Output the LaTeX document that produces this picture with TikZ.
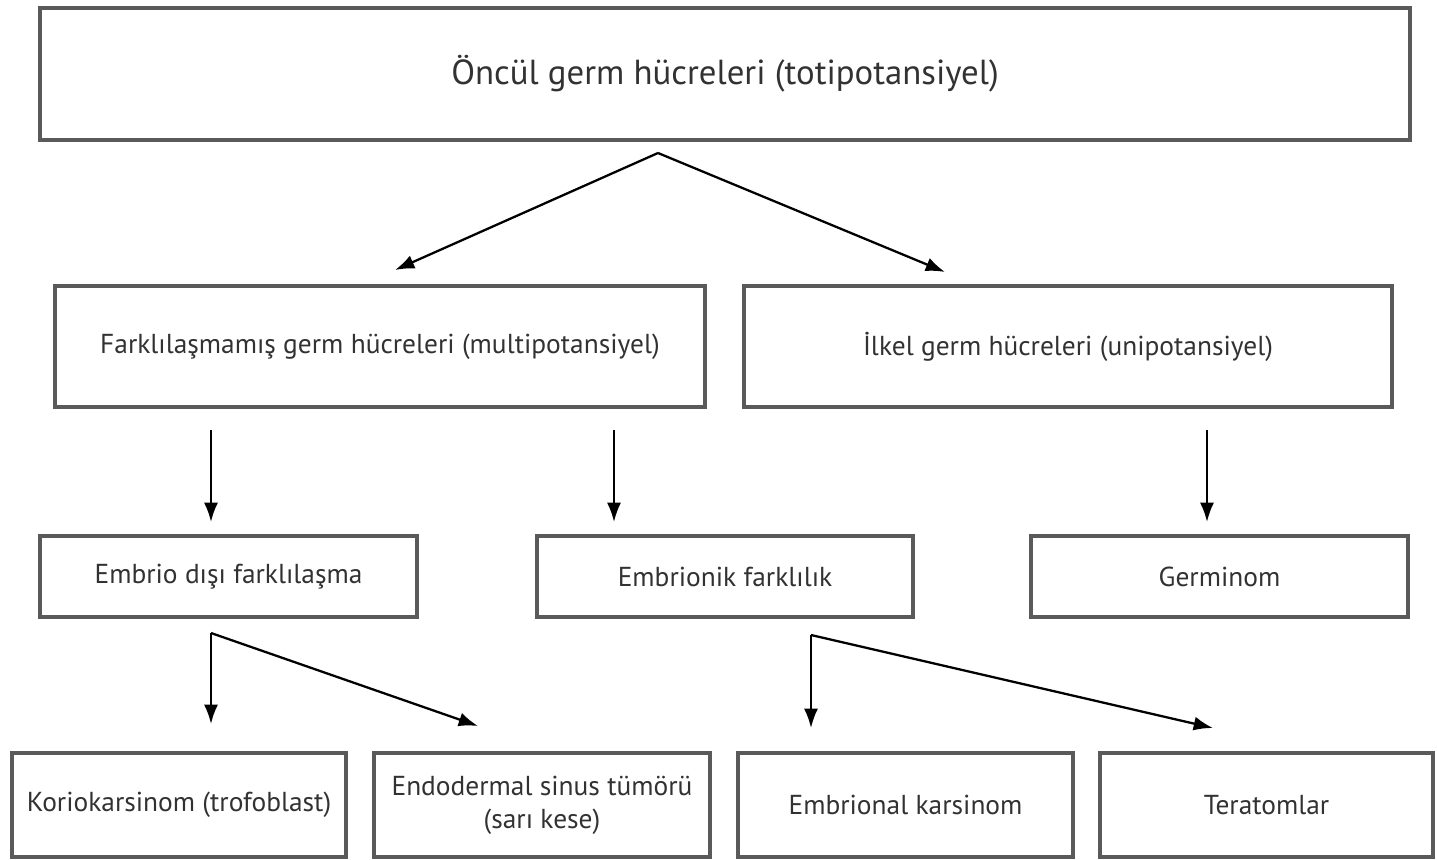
\documentclass[tikz,border=0pt]{standalone}
\usepackage{fontspec}
\setmainfont{PT Sans}
\usetikzlibrary{arrows.meta}
\definecolor{boxgray}{RGB}{90,90,90}
\definecolor{txtgray}{RGB}{50,50,50}
\tikzset{box/.style 2 args={draw=boxgray, line width=1.9pt, text=txtgray, align=center,
    minimum width=#1*0.02cm, minimum height=#2*0.02cm, font=\fontsize{15.6}{19}\selectfont},
  arr/.style={-{Latex[length=11pt,width=8pt]}, line width=1.3pt}}
\begin{document}
\begin{tikzpicture}[x=0.02cm, y=-0.02cm]
            \useasboundingbox (0,0) rectangle (1437,859);
            \node[box={1370}{132}, font=\fontsize{19.8}{24}\selectfont] (oncul) at (725,74) {Öncül germ hücreleri (totipotansiyel)};
            \node[box={650}{121}] (farkli) at (380,346.5) {Farklılaşmamış germ hücreleri (multipotansiyel)};
            \node[box={648}{121}] (ilkel) at (1068,346.5) {İlkel germ hücreleri (unipotansiyel)};
            \node[box={377}{81}] (disi) at (228.5,576.5) {Embrio dışı farklılaşma};
            \node[box={376}{81}] (embrionik) at (725,576.5) {Embrionik farklılık};
            \node[box={377}{81}] (germinom) at (1219.5,576.5) {Germinom};
            \node[box={334}{104}] (korio) at (179,805) {Koriokarsinom (trofoblast)};
            \node[box={336}{104}] (endo) at (542,805) {Endodermal sinus tümörü\\(sarı kese)};
            \node[box={335}{104}] (karsinom) at (905.5,805) {Embrional karsinom};
            \node[box={333}{104}] (terato) at (1266.5,805) {Teratomlar};
            % Branch points
            \coordinate (t1) at (658,153); \coordinate (t2) at (211,633); \coordinate (t3) at (811,635);
            \draw[arr] (t1) -- (395,270);
            \draw[arr] (t1) -- (945,272);
            \draw[arr] (farkli.south -| 211,0) ++(0,21) -- (211,522);
            \draw[arr] (farkli.south -| 614,0) ++(0,21) -- (614,522);
            \draw[arr] (ilkel.south -| 1207,0) ++(0,21) -- (1207,522);
            \draw[arr] (t2) -- (211,724);
            \draw[arr] (t2) -- (478,726);
            \draw[arr] (t3) -- (811,728);
            \draw[arr] (t3) -- (1213,728);
        \end{tikzpicture}
\end{document}
